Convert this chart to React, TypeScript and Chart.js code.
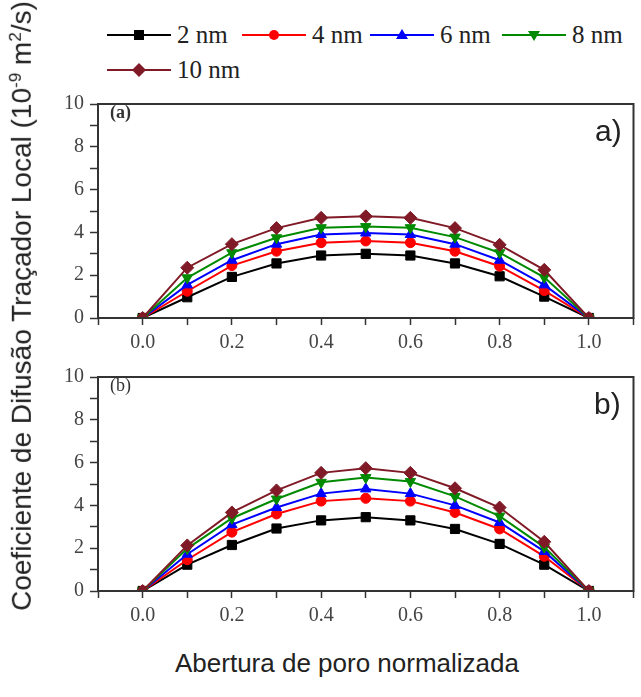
import React, { useEffect, useRef } from "react";
import { Chart, registerables } from "chart.js";

Chart.register(...registerables);

// ---------- data ----------
const xValues = [0, 0.1, 0.2, 0.3, 0.4, 0.5, 0.6, 0.7, 0.8, 0.9, 1.0];
const seriesLabels = ["2 nm", "4 nm", "6 nm", "8 nm", "10 nm"];

const panelA_2nm = [0, 0.97, 1.92, 2.55, 2.92, 3.0, 2.92, 2.55, 1.95, 1.0, 0];
const panelA_4nm = [0, 1.25, 2.45, 3.12, 3.52, 3.6, 3.52, 3.12, 2.42, 1.28, 0];
const panelA_6nm = [0, 1.55, 2.7, 3.45, 3.9, 3.97, 3.9, 3.45, 2.7, 1.55, 0];
const panelA_8nm = [0, 1.88, 3.05, 3.75, 4.22, 4.27, 4.22, 3.78, 3.05, 1.9, 0];
const panelA_10nm = [0, 2.35, 3.45, 4.2, 4.68, 4.75, 4.68, 4.2, 3.42, 2.25, 0];

const panelB_2nm = [0, 1.23, 2.15, 2.92, 3.3, 3.45, 3.3, 2.9, 2.2, 1.23, 0];
const panelB_4nm = [0, 1.46, 2.75, 3.6, 4.2, 4.33, 4.2, 3.67, 2.9, 1.62, 0];
const panelB_6nm = [0, 1.72, 3.1, 3.9, 4.55, 4.77, 4.55, 4.0, 3.2, 1.85, 0];
const panelB_8nm = [0, 1.98, 3.4, 4.3, 5.08, 5.3, 5.12, 4.42, 3.5, 2.05, 0];
const panelB_10nm = [0, 2.13, 3.67, 4.7, 5.52, 5.74, 5.52, 4.8, 3.9, 2.3, 0];

const yTickValues = [0, 2, 4, 6, 8, 10];
const xTickValues = [0.0, 0.2, 0.4, 0.6, 0.8, 1.0];

const yTitleMain = "Coeficiente de Difusão Traçador Local (10";
const xTitle = "Abertura de poro normalizada";

// ---------- styles ----------
const colors = ["#000000", "#ff0000", "#0000ff", "#008a00", "#7f1a26"];
const pointStyles: any[] = ["rect", "circle", "triangle", "triangle", "rectRot"];
const pointRotations = [0, 0, 0, 180, 0];
const pointRadii = [6.5, 5, 6, 6, 6.5];

const borderPlugin = {
  id: "boxBorder",
  afterDraw(chart: any) {
    const { ctx, chartArea } = chart;
    ctx.save();
    ctx.strokeStyle = "#333";
    ctx.lineWidth = 2;
    ctx.strokeRect(chartArea.left, chartArea.top, chartArea.right - chartArea.left, chartArea.bottom - chartArea.top);
    ctx.restore();
  },
};

function buildConfig(series: number[][]) {
  return {
    type: "line",
    data: {
      datasets: series.map((vals, i) => ({
        label: seriesLabels[i],
        data: vals.map((v, j) => ({ x: xValues[j], y: v })),
        borderColor: colors[i],
        backgroundColor: colors[i],
        borderWidth: 2,
        pointStyle: pointStyles[i],
        rotation: pointRotations[i],
        pointRadius: pointRadii[i],
        pointBorderWidth: 1,
        tension: 0,
        order: series.length - 1 - i,
      })),
    },
    options: {
      animation: false,
      responsive: false,
      devicePixelRatio: 1,
      layout: { padding: { top: 10, right: 3, left: 0, bottom: 0 } },
      plugins: { legend: { display: false }, tooltip: { enabled: false } },
      scales: {
        x: {
          type: "linear",
          min: -0.1,
          max: 1.1,
          afterFit: (s: any) => { s.height = 40; },
          border: { display: false },
          grid: { drawOnChartArea: false, tickLength: 7, tickColor: "#333", tickWidth: 1.5 },
          ticks: {
            stepSize: 0.1,
            autoSkip: false,
            maxRotation: 0,
            padding: 6,
            color: "#444",
            font: { family: "'Liberation Serif', 'Times New Roman', serif", size: 20 },
            callback: (v: number) => {
              const n = Math.round(v * 10);
              const found = xTickValues.find((t) => Math.round(t * 10) === n);
              return found === undefined ? "" : found.toFixed(1);
            },
          },
        },
        y: {
          min: 0,
          max: 10,
          afterFit: (s: any) => { s.width = 98; },
          border: { display: false },
          grid: { drawOnChartArea: false, tickLength: 8, tickColor: "#333", tickWidth: 1.5 },
          ticks: {
            stepSize: 1,
            autoSkip: false,
            padding: 6,
            color: "#444",
            font: { family: "'Liberation Serif', 'Times New Roman', serif", size: 20 },
            callback: (v: number) => (yTickValues.includes(v) ? String(v) : ""),
          },
        },
      },
    },
    plugins: [borderPlugin],
  } as any;
}

function Panel({ series, top }: { series: number[][]; top: number }) {
  const ref = useRef<HTMLCanvasElement>(null);
  useEffect(() => {
    const chart = new Chart(ref.current as HTMLCanvasElement, buildConfig(series));
    return () => chart.destroy();
  }, []);
  return (
    <canvas
      ref={ref}
      width={641}
      height={272}
      style={{ position: "absolute", left: 0, top, width: 641, height: 272 }}
    />
  );
}

function LegendMarker({ i }: { i: number }) {
  const c = colors[i];
  const cx = 32, cy = 10;
  let shape: any = null;
  if (i === 0) shape = <rect x={cx - 5} y={cy - 5} width={10} height={10} fill={c} />;
  else if (i === 1) shape = <circle cx={cx} cy={cy} r={5} fill={c} />;
  else if (i === 2) shape = <polygon points={`${cx},${cy - 6} ${cx + 6},${cy + 4} ${cx - 6},${cy + 4}`} fill={c} />;
  else if (i === 3) shape = <polygon points={`${cx},${cy + 6} ${cx + 6},${cy - 4} ${cx - 6},${cy - 4}`} fill={c} />;
  else shape = <polygon points={`${cx},${cy - 7} ${cx + 7},${cy} ${cx},${cy + 7} ${cx - 7},${cy}`} fill={c} />;
  return (
    <svg width={64} height={20} style={{ display: "block" }}>
      <line x1={0} y1={cy} x2={64} y2={cy} stroke={c} strokeWidth={2} />
      {shape}
    </svg>
  );
}

const legendPos = [
  { left: 107, top: 35 },
  { left: 242, top: 35 },
  { left: 370, top: 35 },
  { left: 502, top: 35 },
  { left: 107, top: 70 },
];

export default function App() {
  const panelA = [panelA_2nm, panelA_4nm, panelA_6nm, panelA_8nm, panelA_10nm];
  const panelB = [panelB_2nm, panelB_4nm, panelB_6nm, panelB_8nm, panelB_10nm];
  const serif = "'Liberation Serif', 'Times New Roman', serif";
  const sans = "'Liberation Sans', Arial, sans-serif";
  return (
    <div style={{ position: "absolute", left: 0, top: 0, width: 641, height: 697, background: "#fff", overflow: "hidden" }}>
      {seriesLabels.map((lab, i) => (
        <div
          key={lab}
          style={{
            position: "absolute",
            left: legendPos[i].left,
            top: legendPos[i].top,
            transform: "translateY(-50%)",
            display: "flex",
            alignItems: "center",
            whiteSpace: "nowrap",
          }}
        >
          <LegendMarker i={i} />
          <span style={{ fontFamily: serif, fontSize: 25, color: "#222", marginLeft: 6 }}>{lab}</span>
        </div>
      ))}

      <Panel series={panelA} top={86} />
      <Panel series={panelB} top={359} />

      <div style={{ position: "absolute", left: 110, top: 112, transform: "translateY(-50%)", fontFamily: serif, fontSize: 18, fontWeight: "bold", color: "#333" }}>(a)</div>
      <div style={{ position: "absolute", left: 110, top: 385, transform: "translateY(-50%)", fontFamily: serif, fontSize: 18, color: "#333" }}>(b)</div>
      <div style={{ position: "absolute", left: 595, top: 131, transform: "translateY(-50%)", fontFamily: sans, fontSize: 30, color: "#222" }}>a)</div>
      <div style={{ position: "absolute", left: 594, top: 404, transform: "translateY(-50%)", fontFamily: sans, fontSize: 30, color: "#222" }}>b)</div>

      <div
        style={{
          position: "absolute",
          left: 22,
          top: 306,
          transform: "translate(-50%, -50%) rotate(-90deg)",
          whiteSpace: "nowrap",
          fontFamily: sans,
          fontSize: 28,
          color: "#222",
        }}
      >
        {yTitleMain}
        <sup style={{ fontSize: 17 }}>-9</sup> m<sup style={{ fontSize: 17 }}>2</sup>/s)
      </div>

      <div
        style={{
          position: "absolute",
          left: 347,
          top: 663,
          transform: "translate(-50%, -50%)",
          whiteSpace: "nowrap",
          fontFamily: sans,
          fontSize: 26,
          color: "#222",
        }}
      >
        {xTitle}
      </div>
    </div>
  );
}
